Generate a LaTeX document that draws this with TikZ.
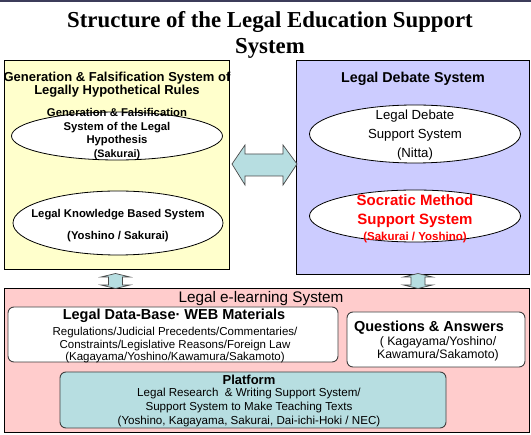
\documentclass[tikz,border=0pt]{standalone}
\usepackage{fontspec}
\setmainfont{Liberation Sans}
\newfontfamily\titlefont{Liberation Serif}
\usetikzlibrary{shapes.geometric}
\definecolor{yelfill}{RGB}{255,255,204}
\definecolor{lavfill}{RGB}{204,204,255}
\definecolor{pinkfill}{RGB}{255,204,204}
\definecolor{tealfill}{RGB}{183,222,225}
\definecolor{topline}{RGB}{60,60,90}
\newcommand{\myfs}[2]{\fontsize{#1}{#2}\selectfont}
\begin{document}
\begin{tikzpicture}[x=1pt,y=-1pt,
  sysbox/.style={draw=black,line width=0.9pt,inner sep=0pt},
  subbox/.style={draw=black!75,line width=0.9pt,rounded corners=6pt,fill=white,inner sep=0pt},
  oval/.style={ellipse,draw=black,line width=0.8pt,fill=white,inner sep=0pt},
  txt/.style={inner sep=0pt,align=center},
  blockarrow/.style={draw=black!70,line width=0.7pt,fill=tealfill,line join=miter}
]
\useasboundingbox (0,0) rectangle (531,435);
\fill[white] (0,0) rectangle (531,435);
\fill[topline] (0,0) rectangle (531,2);

% title
\node[txt,font=\titlefont\bfseries\myfs{22.8}{26}] (title) at (270,34.5) {Structure of the Legal Education Support\\System};

% left system
\node[sysbox,fill=yelfill,minimum width=225pt,minimum height=209pt] (L) at (116.5,164.5) {};
\node[txt,font=\bfseries\myfs{13}{13}] (Ltitle) at (117,84.5) {Generation \& Falsification System of\\Legally Hypothetical Rules};
\node[oval,minimum width=211pt,minimum height=48pt] (L1) at (117,136) {};
\node[txt,font=\bfseries\myfs{11.3}{13.5}] (L1a) at (117,127.5) {Generation \& Falsification\\System of the Legal\\Hypothesis};
\node[txt,font=\bfseries\myfs{10.8}{12}] (L1b) at (117,155) {(Sakurai)};
\node[oval,minimum width=210pt,minimum height=64pt] (L2) at (118,223) {};
\node[txt,font=\bfseries\myfs{11.3}{12}] (L2a) at (118,215) {Legal Knowledge Based System};
\node[txt,font=\bfseries\myfs{11.3}{12}] (L2b) at (118,237) {(Yoshino / Sakurai)};

% right system
\node[sysbox,fill=lavfill,minimum width=233pt,minimum height=214pt] (R) at (412.5,167) {};
\node[txt,font=\bfseries\myfs{14.3}{14}] (Rtitle) at (413,79) {Legal Debate System};
\node[oval,minimum width=211pt,minimum height=58pt] (R1) at (415,134) {};
\node[txt,font=\myfs{13.2}{19}] (R1a) at (415,135) {Legal Debate\\Support System\\(Nitta)};
\node[oval,minimum width=211pt,minimum height=52pt] (R2) at (415,216) {};
\node[txt,font=\bfseries\myfs{15}{14},text=red] (R2a) at (415,200) {Socratic Method};
\node[txt,font=\bfseries\myfs{15}{14},text=red] (R2b) at (415,221) {Support System};
\node[txt,font=\bfseries\myfs{11.5}{10},text=red] (R2c) at (415,238) {(Sakurai / Yoshino)};

% bottom system
\node[sysbox,fill=pinkfill,minimum width=525pt,minimum height=144pt] (E) at (266.5,360) {};
\node[txt,font=\myfs{15.3}{15}] (Etitle) at (261,299) {Legal e-learning System};
\node[subbox,minimum width=330pt,minimum height=55pt] (DB) at (173,334.5) {};
\node[txt,font=\bfseries\myfs{14.5}{15}] (DBt) at (174,316) {Legal Data-Base· WEB Materials};
\node[txt,font=\myfs{11.5}{12.5}] (DBb) at (175,345.5) {Regulations/Judicial Precedents/Commentaries/\\Constraints/Legislative Reasons/Foreign Law\\(Kagayama/Yoshino/Kawamura/Sakamoto)};
\node[subbox,minimum width=178pt,minimum height=55pt] (Q) at (436,339.5) {};
\node[txt,font=\bfseries\myfs{14.5}{15}] (Qt) at (429,328) {Questions \& Answers};
\node[txt,font=\myfs{12.3}{12.5}] (Qb) at (438,349) {( Kagayama/Yoshino/\\Kawamura/Sakamoto)};
\node[subbox,fill=tealfill,minimum width=386pt,minimum height=56pt] (P) at (253,400) {};
\node[txt,font=\bfseries\myfs{13}{13}] (Pt) at (249,380) {Platform};
\node[txt,font=\myfs{11.6}{14}] (Pb) at (249,408) {Legal Research \ \& Writing Support System/\\Support System to Make Teaching Texts\\(Yoshino, Kagayama, Sakurai, Dai-ichi-Hoki / NEC)};

% block arrows
\draw[blockarrow] (232,164) -- (245,145) -- (245,154) -- (283,154) -- (283,145) -- (297,164) -- (283,185) -- (283,176) -- (245,176) -- (245,185) -- cycle;
\begin{scope}[shift={(115.5,281)}]
\draw[blockarrow] (0,-7.5) -- (14.5,-4) -- (7,-4) -- (7,4) -- (14.5,4) -- (0,7.5) -- (-14.5,4) -- (-7,4) -- (-7,-4) -- (-14.5,-4) -- cycle;
\end{scope}
\begin{scope}[shift={(418,281)}]
\draw[blockarrow] (0,-7.5) -- (14.5,-4) -- (7,-4) -- (7,4) -- (14.5,4) -- (0,7.5) -- (-14.5,4) -- (-7,4) -- (-7,-4) -- (-14.5,-4) -- cycle;
\end{scope}
\end{tikzpicture}
\end{document}
